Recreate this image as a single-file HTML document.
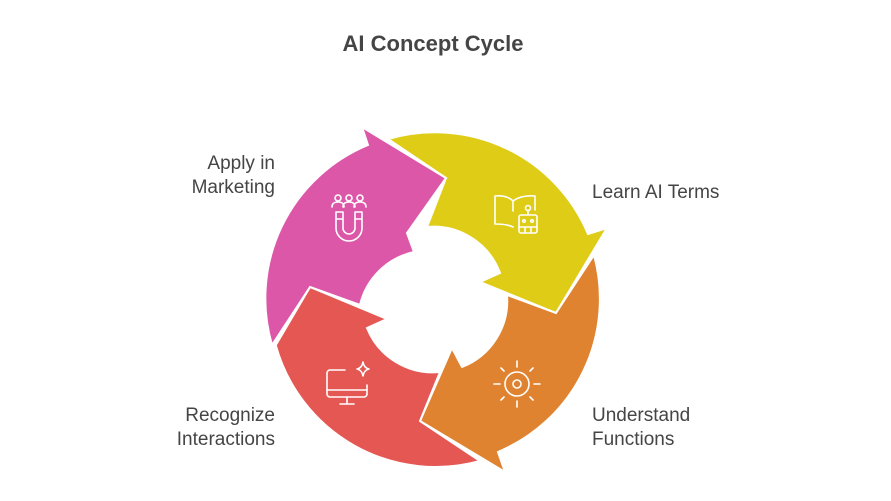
<!DOCTYPE html>
<html><head><meta charset="utf-8"><style>
html,body{margin:0;padding:0;background:#fff;}
svg{display:block;}
text{font-family:"Liberation Sans",sans-serif;fill:#454545;}
</style></head><body>
<svg width="891" height="501" viewBox="0 0 891 501" xmlns="http://www.w3.org/2000/svg">
<text x="433" y="51" font-size="22" font-weight="bold" text-anchor="middle" fill="#444">AI Concept Cycle</text>
<g stroke="#fff" stroke-width="2" stroke-linejoin="miter">
<path fill="#DFCC17" d="M388,139 A166,166 0 0 1 588,234 L607,228 L556,313 L480,282 L500,273 A71,71 0 0 0 427,227 L446,178 Z"/>
<path fill="#DF8330" d="M556,313 L594,255 A166,166 0 0 1 498,452 L505,472 L420,421 L452,348 L462,367 A71,71 0 0 0 507,295 Z"/>
<path fill="#E45753" d="M420,421 L480,461 A166,166 0 0 1 276,346 L260,372 L310,287 L387,319 L367,328 A71,71 0 0 0 440,372 Z"/>
<path fill="#DC57A8" d="M310,287 L272,345 A166,166 0 0 1 368,145 L362,127 L446,178 L407,233 L414,252 A71,71 0 0 0 360,305 Z"/>
</g>
<g fill="none" stroke="#fff" stroke-width="1.6" stroke-linecap="round" stroke-linejoin="round">
<path d="M495,196 v28 q12,0 18,3 M495,196 q12,-1 18,5 v10 M513,201 q8,-6 22,-5 v14"/>
<circle cx="528" cy="208" r="2.5"/><path d="M528,210.5 v4"/>
<rect x="519" y="215" width="18" height="18" rx="2"/>
<circle cx="524" cy="221" r="1.3"/><circle cx="532" cy="221" r="1.3"/>
<path d="M519,227 h18 M525,227 v6 M531,227 v6"/>
<circle cx="517" cy="384" r="12"/><circle cx="517" cy="384" r="4"/>
<path d="M517,361 v6 M517,401 v6 M494,384 h6 M534,384 h6 M501,368 l3,3 M533,368 l-3,3 M501,400 l3,-3 M533,400 l-3,-3"/>
<path d="M345,370 h-15 a3,3 0 0 0 -3,3 v21 a3,3 0 0 0 3,3 h34 a3,3 0 0 0 3,-3 v-9"/>
<path d="M327,390 h40 M347,397 v6 M340,404 h14"/>
<path d="M363,362 q1,6 6,7 q-5,1 -6,7 q-1,-6 -6,-7 q5,-1 6,-7 z"/>
<circle cx="338" cy="198" r="3"/><circle cx="349" cy="198" r="3"/><circle cx="360" cy="198" r="3"/>
<path d="M332,207 q0,-5 6,-5 q6,0 6,5 M343,207 q0,-5 6,-5 q6,0 6,5 M354,207 q0,-5 6,-5 q6,0 6,5"/>
<path d="M336,212 v16 a13,13 0 0 0 26,0 v-16 h-7 v16 a6,6 0 0 1 -12,0 v-16 z M336,219 h7 M355,219 h7"/>
</g>
<text x="592" y="198" font-size="19">Learn AI Terms</text>
<text x="592" y="421" font-size="19">Understand</text>
<text x="592" y="445" font-size="19">Functions</text>
<text x="275" y="421" font-size="19" text-anchor="end">Recognize</text>
<text x="275" y="445" font-size="19" text-anchor="end">Interactions</text>
<text x="275" y="169" font-size="19" text-anchor="end">Apply in</text>
<text x="275" y="193" font-size="19" text-anchor="end">Marketing</text>
</svg>
</body></html>
